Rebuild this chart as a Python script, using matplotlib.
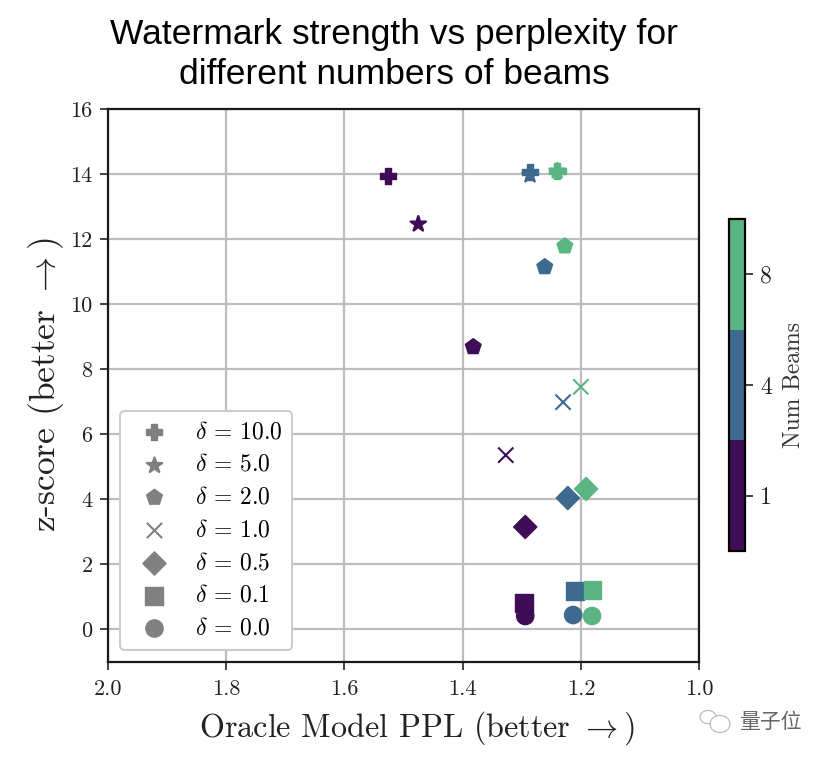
import matplotlib
matplotlib.use('Agg')
import matplotlib.pyplot as plt
from matplotlib.colors import ListedColormap, BoundaryNorm
from matplotlib.cm import ScalarMappable
from matplotlib.patches import Ellipse

plt.rcParams['mathtext.fontset'] = 'cm'
plt.rcParams['axes.formatter.use_mathtext'] = True
plt.rcParams['font.family'] = ['cmr10', 'DejaVu Sans']

W, H = 824, 758

beams = ['1', '4', '8']
beam_colors = ['#3f0d55', '#3d6a8e', '#5bb582']

deltas = ['10.0', '5.0', '2.0', '1.0', '0.5', '0.1', '0.0']
markers = ['P', '*', 'p', 'x', 'D', 's', 'o']
sizes = [145, 135, 140, 120, 140, 155, 155]

# one list per delta, in beam order 1, 4, 8
ppl_10 = [1.526, 1.286, 1.240]
z_10 = [13.94, 14.06, 14.09]
ppl_5 = [1.475, 1.286, 1.240]
z_5 = [12.46, 13.97, 14.09]
ppl_2 = [1.382, 1.261, 1.227]
z_2 = [8.68, 11.14, 11.78]
ppl_1 = [1.327, 1.230, 1.200]
z_1 = [5.35, 6.98, 7.45]
ppl_05 = [1.294, 1.222, 1.191]
z_05 = [3.14, 4.03, 4.31]
ppl_01 = [1.296, 1.210, 1.180]
z_01 = [0.80, 1.17, 1.20]
ppl_00 = [1.294, 1.213, 1.181]
z_00 = [0.40, 0.43, 0.40]

ppl = [ppl_10, ppl_5, ppl_2, ppl_1, ppl_05, ppl_01, ppl_00]
zscore = [z_10, z_5, z_2, z_1, z_05, z_01, z_00]

xticks = [2.0, 1.8, 1.6, 1.4, 1.2, 1.0]
yticks = [0, 2, 4, 6, 8, 10, 12, 14, 16]


def marker_style(i):
    if markers[i] == 'x':
        return dict(marker='x', s=sizes[i], linewidths=1.5)
    lw = 1.6 if markers[i] == '*' else 1.0
    return dict(marker=markers[i], s=sizes[i], linewidths=lw, edgecolors='face')


fig = plt.figure(figsize=(W / 100, H / 100), dpi=100)
ax = fig.add_axes([108 / W, 1 - 661.5 / H, 591 / W, 552.5 / H])

# 0.1 goes first so the circle sits on top of it, as in the original
order = [5, 6, 4, 3, 2, 1, 0]
for i in order:
    ax.scatter(ppl[i], zscore[i], c=beam_colors, zorder=3, **marker_style(i))

ax.set_xlim(2.0, 1.0)
ax.set_ylim(-1, 16)
ax.set_xticks(xticks, [f'{t:.1f}' for t in xticks])
ax.set_yticks(yticks, [str(t) for t in yticks])
ax.tick_params(labelsize=16, length=6, width=1.2, colors='#222222', pad=5)
ax.tick_params(axis='x', pad=7)
ax.grid(color='#bdbdbd', linewidth=1.6)
ax.set_axisbelow(True)
for s in ax.spines.values():
    s.set_linewidth(1.6)
    s.set_color('#1a1a1a')

ax.set_xlabel(r'Oracle Model PPL (better $\rightarrow$)', fontsize=23.2, color='#222222', labelpad=9)
ax.xaxis.set_label_coords(0.523, -0.087)
ax.set_ylabel(r'z-score (better $\rightarrow$)', fontsize=25.5, color='#222222', labelpad=3)

fig.text(394 / W, 1 - 54.5 / H, 'Watermark strength vs perplexity for\ndifferent numbers of beams',
         family='Liberation Sans', fontsize=25.5, ha='center', va='center', linespacing=1.3)

handles = []
for i in range(len(deltas)):
    h = ax.scatter([], [], c='#808080', label=rf'$\delta$ = {deltas[i]}', **marker_style(i))
    handles.append(h)
leg = ax.legend(handles=handles, loc='lower left', bbox_to_anchor=(12 / 591, 12 / 552.5),
                borderaxespad=0, fontsize=17, labelspacing=0.45, handletextpad=0.75,
                framealpha=1, edgecolor='#cccccc', borderpad=0.42)
leg.get_frame().set_linewidth(1.5)
leg.set_zorder(5)

# colorbar with three equal steps
cax = fig.add_axes([728.5 / W, 1 - 551 / H, 16.5 / W, 332 / H])
cmap = ListedColormap(beam_colors)
norm = BoundaryNorm([0, 1, 2, 3], 3)
cb = fig.colorbar(ScalarMappable(norm=norm, cmap=cmap), cax=cax)
cb.set_ticks([0.5, 1.5, 2.5], labels=beams)
cb.ax.tick_params(labelsize=17, length=6, width=1.2, colors='#222222', pad=5)
cb.ax.minorticks_off()
cb.outline.set_linewidth(1.6)
cb.set_label('Num Beams', fontsize=17, color='#333333', labelpad=8)

# watermark
fig.text(739 / W, 1 - 722 / H, '量子位', family=['Noto Sans CJK SC', 'DejaVu Sans'], fontsize=15,
         color='#666666', ha='left', va='center')
for cx, cy, w, h in [(708, 717, 16, 13), (720, 724, 20, 17)]:
    fig.add_artist(Ellipse((cx / W, 1 - cy / H), w / W, h / H, transform=fig.transFigure,
                           facecolor='white', edgecolor='#b5b5b5', linewidth=0.8))

fig.savefig('out.png', dpi=100)
